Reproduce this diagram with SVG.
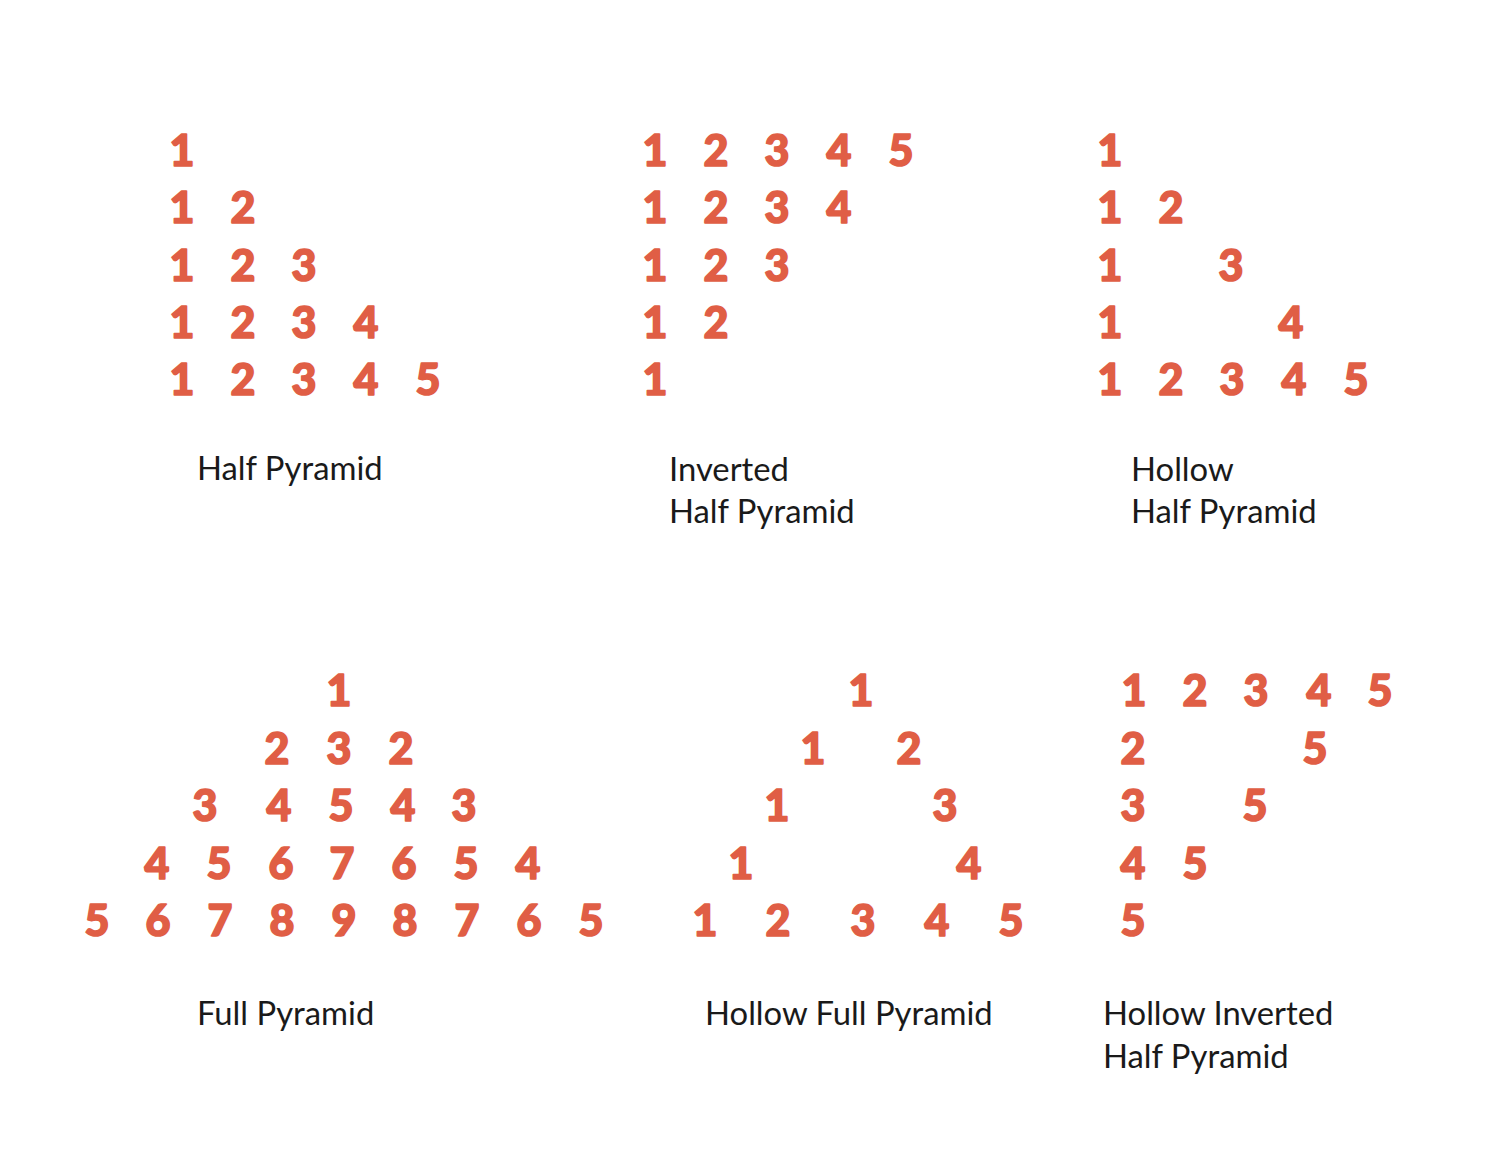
<svg xmlns="http://www.w3.org/2000/svg" width="1512" height="1152" viewBox="0 0 1512 1152">
<style>
.n{font-family:Lato,"Open Sans","DejaVu Sans",sans-serif;font-weight:900;font-size:43px;fill:#E05E45;stroke:#E05E45;stroke-width:1.6px;stroke-linejoin:round;text-anchor:middle}
.l{font-family:Lato,"Open Sans","DejaVu Sans",sans-serif;font-size:32.8px;fill:#1a1a1a}
</style>
<rect width="1512" height="1152" fill="#ffffff"/>
<g id="half-pyramid">
<text class="n" x="182" y="166">1</text>
<text class="n" x="182" y="223">1</text><text class="n" x="243" y="223">2</text>
<text class="n" x="182" y="281">1</text><text class="n" x="243" y="281">2</text><text class="n" x="304" y="281">3</text>
<text class="n" x="182" y="338">1</text><text class="n" x="243" y="338">2</text><text class="n" x="304" y="338">3</text><text class="n" x="366" y="338">4</text>
<text class="n" x="182" y="395">1</text><text class="n" x="243" y="395">2</text><text class="n" x="304" y="395">3</text><text class="n" x="366" y="395">4</text><text class="n" x="428" y="395">5</text>
<text class="l" x="197" y="480">Half Pyramid</text>
</g>
<g id="inverted-half-pyramid">
<text class="n" x="655" y="166">1</text><text class="n" x="716" y="166">2</text><text class="n" x="777" y="166">3</text><text class="n" x="839" y="166">4</text><text class="n" x="901" y="166">5</text>
<text class="n" x="655" y="223">1</text><text class="n" x="716" y="223">2</text><text class="n" x="777" y="223">3</text><text class="n" x="839" y="223">4</text>
<text class="n" x="655" y="281">1</text><text class="n" x="716" y="281">2</text><text class="n" x="777" y="281">3</text>
<text class="n" x="655" y="338">1</text><text class="n" x="716" y="338">2</text>
<text class="n" x="655" y="395">1</text>
<text class="l" x="669" y="481">Inverted</text>
<text class="l" x="669" y="523">Half Pyramid</text>
</g>
<g id="hollow-half-pyramid">
<text class="n" x="1110" y="166">1</text>
<text class="n" x="1110" y="223">1</text><text class="n" x="1171" y="223">2</text>
<text class="n" x="1110" y="281">1</text><text class="n" x="1231" y="281">3</text>
<text class="n" x="1110" y="338">1</text><text class="n" x="1291" y="338">4</text>
<text class="n" x="1110" y="395">1</text><text class="n" x="1171" y="395">2</text><text class="n" x="1232" y="395">3</text><text class="n" x="1294" y="395">4</text><text class="n" x="1356" y="395">5</text>
<text class="l" x="1131" y="481">Hollow</text>
<text class="l" x="1131" y="523">Half Pyramid</text>
</g>
<g id="full-pyramid">
<text class="n" x="339" y="706">1</text>
<text class="n" x="277" y="764">2</text><text class="n" x="339" y="764">3</text><text class="n" x="401" y="764">2</text>
<text class="n" x="205" y="821">3</text><text class="n" x="279" y="821">4</text><text class="n" x="341" y="821">5</text><text class="n" x="403" y="821">4</text><text class="n" x="464" y="821">3</text>
<text class="n" x="157" y="879">4</text><text class="n" x="219" y="879">5</text><text class="n" x="281" y="879">6</text><text class="n" x="342" y="879">7</text><text class="n" x="404" y="879">6</text><text class="n" x="466" y="879">5</text><text class="n" x="528" y="879">4</text>
<text class="n" x="97" y="936">5</text><text class="n" x="158" y="936">6</text><text class="n" x="220" y="936">7</text><text class="n" x="282" y="936">8</text><text class="n" x="344" y="936">9</text><text class="n" x="405" y="936">8</text><text class="n" x="467" y="936">7</text><text class="n" x="529" y="936">6</text><text class="n" x="591" y="936">5</text>
<text class="l" x="197" y="1025">Full Pyramid</text>
</g>
<g id="hollow-full-pyramid">
<text class="n" x="861" y="706">1</text>
<text class="n" x="813" y="764">1</text><text class="n" x="909" y="764">2</text>
<text class="n" x="777" y="821">1</text><text class="n" x="945" y="821">3</text>
<text class="n" x="741" y="879">1</text><text class="n" x="969" y="879">4</text>
<text class="n" x="705" y="936">1</text><text class="n" x="778" y="936">2</text><text class="n" x="863" y="936">3</text><text class="n" x="937" y="936">4</text><text class="n" x="1011" y="936">5</text>
<text class="l" x="705" y="1025">Hollow Full Pyramid</text>
</g>
<g id="hollow-inverted-half-pyramid">
<text class="n" x="1134" y="706">1</text><text class="n" x="1195" y="706">2</text><text class="n" x="1256" y="706">3</text><text class="n" x="1319" y="706">4</text><text class="n" x="1380" y="706">5</text>
<text class="n" x="1133" y="764">2</text><text class="n" x="1315" y="764">5</text>
<text class="n" x="1133" y="821">3</text><text class="n" x="1255" y="821">5</text>
<text class="n" x="1133" y="879">4</text><text class="n" x="1195" y="879">5</text>
<text class="n" x="1133" y="936">5</text>
<text class="l" x="1103" y="1025">Hollow Inverted</text>
<text class="l" x="1103" y="1068">Half Pyramid</text>
</g>
<g id="connectors"/>
</svg>
